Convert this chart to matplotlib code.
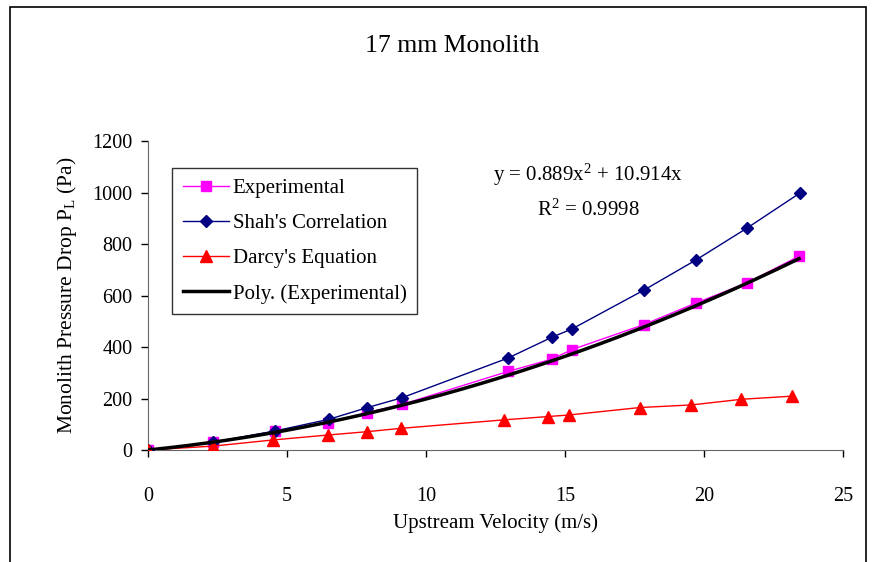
import numpy as np
import matplotlib
matplotlib.use('Agg')
import matplotlib.pyplot as plt
from matplotlib.patches import Rectangle

plt.rcParams['font.family'] = ['Liberation Serif', 'DejaVu Serif']
plt.rcParams['mathtext.fontset'] = 'custom'
plt.rcParams['mathtext.rm'] = 'Liberation Serif'
plt.rcParams['mathtext.it'] = 'Liberation Serif:italic'

# data
exp_v = [0, 2.33, 4.57, 6.47, 7.87, 9.14, 12.95, 14.53, 15.25, 17.84, 19.71, 21.55, 23.42]
exp_dp = [0, 30, 72, 104, 145, 177, 305, 353, 390, 487, 571, 649, 753]

shah_v = [0, 2.33, 4.57, 6.5, 7.87, 9.14, 12.95, 14.55, 15.25, 17.84, 19.71, 21.55, 23.45]
shah_dp = [0, 30, 74, 119, 164, 203, 357, 439, 470, 621, 738, 862, 998]

darcy_v = [0, 2.33, 4.5, 6.46, 7.87, 9.09, 12.8, 14.4, 15.15, 17.7, 19.55, 21.35, 23.15]
darcy_dp = [0, 15, 39, 58, 71, 84, 117, 130, 136, 165, 175, 197, 209]

poly_coef = [0.889, 10.914, 0.0]  # y = 0.889x^2 + 10.914x

x_ticks = [0, 5, 10, 15, 20, 25]
y_ticks = [0, 200, 400, 600, 800, 1000, 1200]

fig = plt.figure(figsize=(8.72, 5.62), dpi=100)
ax = fig.add_axes([0.1697, 0.1993, 0.797, 0.5497])

ax.plot(exp_v, exp_dp, color='#FF00FF', lw=1, marker='s', ms=7.5,
        label='Experimental', zorder=3)
ax.plot(shah_v, shah_dp, color='#000080', lw=1, marker='D', ms=6.5,
        label="Shah's Correlation", zorder=3)
ax.plot(darcy_v, darcy_dp, color='#FF0000', lw=1, marker='^', ms=9,
        label="Darcy's Equation", zorder=3)

xfit = np.linspace(0, exp_v[-1], 200)
ax.plot(xfit, np.polyval(poly_coef, xfit), color='black', lw=2.5,
        label='Poly. (Experimental)', zorder=4)

ax.set_xlim(0, 25)
ax.set_ylim(0, 1200)
ax.set_xticks(x_ticks)
ax.set_yticks(y_ticks)
ax.tick_params(direction='out', length=5, width=1, labelsize=14.5)
ax.tick_params(axis='x', pad=22)
ax.tick_params(axis='y', pad=6)
for s in ['top', 'right']:
    ax.spines[s].set_visible(False)
for s in ['left', 'bottom']:
    ax.spines[s].set_color('#666666')

ax.set_xlabel('Upstream Velocity (m/s)', fontsize=15, labelpad=5)
ax.set_ylabel(r'Monolith Pressure Drop P$_\mathrm{L}$ (Pa)', fontsize=15.5, labelpad=10)

fig.text(0.518, 0.918, '17 mm Monolith', fontsize=18.5, ha='center', va='center')

ax.text(0.633, 0.89, r'y = 0.889x$^2$ + 10.914x', transform=ax.transAxes,
        fontsize=15, ha='center', va='center')
ax.text(0.633, 0.777, r'R$^2$ = 0.9998', transform=ax.transAxes,
        fontsize=15, ha='center', va='center')

leg = ax.legend(loc='upper left', bbox_to_anchor=(0.035, 0.913), fontsize=15,
                frameon=True, fancybox=False, edgecolor='black',
                handlelength=2.2, borderpad=0.5, labelspacing=0.75,
                handletextpad=0.2, borderaxespad=0)
leg.get_frame().set_linewidth(1)

fig.patches.append(Rectangle((10 / 872, -0.1), 856 / 872, 1.1 - 7 / 562,
                             transform=fig.transFigure, fill=False,
                             edgecolor='black', lw=1.2))

fig.savefig('out.png', dpi=100)
